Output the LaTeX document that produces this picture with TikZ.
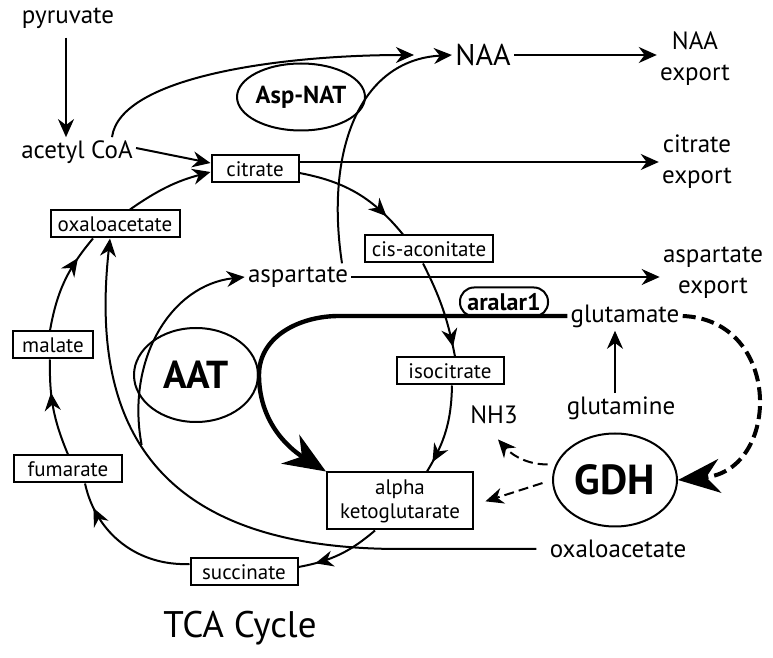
\documentclass[tikz,border=0pt]{standalone}
\usepackage{fontspec}
\setmainfont{PT Sans}
\usetikzlibrary{positioning, arrows.meta, shapes.geometric, decorations.markings, calc}

\begin{document}
\begin{tikzpicture}[x=0.5pt, y=-0.5pt,
  met/.style={font=\fontsize{12.5}{15.5}\selectfont, align=center, inner sep=1.5pt},
  cyc/.style={draw, line width=1pt, font=\fontsize{10.5}{12}\selectfont, minimum height=13.5pt,
              inner ysep=0pt, align=center},
  enz/.style={draw, ellipse, line width=1pt, inner sep=0pt, font=\bfseries\fontsize{#1}{#1}\selectfont},
  arr/.style={-{Stealth[length=9pt, width=8pt]}, line width=1pt},
  arrm/.style={line width=1pt, postaction={decorate},
               decoration={markings, mark=at position #1 with {\arrow{Stealth[length=9pt, width=8pt]}}}},
  arrd/.style={-{Stealth[length=9pt, width=8pt]}, line width=1pt, dash pattern=on 5pt off 2.5pt},
  arrt/.style={-{Stealth[length=21pt, width=17pt]}, line width=2.2pt},
  arrtd/.style={-{Stealth[length=21pt, width=17pt]}, line width=2pt, dash pattern=on 6.5pt off 3pt}
]
  \useasboundingbox (0,0) rectangle (773,658);

  % metabolites
  \node[met] (pyr) at (68,18) {pyruvate};
  \node[met] (acoa) at (77,152) {acetyl CoA};
  \node[met, font=\fontsize{15}{18}\selectfont] (naa) at (483,55) {NAA};
  \node[met] (naaex) at (695,59) {NAA\\export};
  \node[met] (citex) at (697,162) {citrate\\export};
  \node[met] (asp) at (298,277) {aspartate};
  \node[met] (aspex) at (713,273) {aspartate\\export};
  \node[met] (glu) at (625,316) {glutamate};
  \node[met] (gln) at (621,408) {glutamine};
  \node[met] (nh3) at (494,415) {NH3};
  \node[met] (oaa2) at (618,549) {oxaloacetate};

  % TCA cycle boxes
  \node[cyc, minimum width=43.5pt] (cit) at (255,169) {citrate};
  \node[cyc, minimum width=63pt] (cis) at (429,249) {cis-aconitate};
  \node[cyc, minimum width=53.5pt] (iso) at (450,371) {isocitrate};
  \node[cyc, minimum width=73pt, minimum height=28.5pt] (akg) at (400,501) {alpha\\ketoglutarate};
  \node[cyc, minimum width=53.5pt] (suc) at (244,572) {succinate};
  \node[cyc, minimum width=54pt] (fum) at (68,469) {fumarate};
  \node[cyc, minimum width=40pt] (mal) at (53,345) {malate};
  \node[cyc, minimum width=64.5pt] (oaa) at (115,224) {oxaloacetate};

  % enzymes
  \node[enz=12.3, minimum width=55.5pt, minimum height=33.5pt] (aspnat) at (301,97) {Asp-NAT};
  \node[enz=19.5, minimum width=62pt, minimum height=47pt] (aat) at (196,375) {AAT};
  \node[enz=21, minimum width=62pt, minimum height=46.5pt] (gdh) at (615,480) {GDH};
  \node[draw, rounded corners=7pt, line width=1pt, minimum width=44pt, minimum height=14.5pt,
        inner sep=0pt, font=\bfseries\fontsize{12}{14}\selectfont] (aralar) at (504,302) {aralar1};

  \node[font=\fontsize{18.5}{22}\selectfont] (tca) at (240,628) {TCA Cycle};

  % cycle
  \draw[arr, shorten <=3pt] ([xshift=-1pt]pyr.south) -- ([xshift=-1pt]pyr.south |- acoa.north);
  \draw[arr] ([yshift=2pt]acoa.east) -- ([yshift=3pt]cit.west);
  \draw[arr] ([xshift=7.5pt]oaa.north) to[bend left=10] ([yshift=-1.5pt]cit.west);
  \draw[arrm=0.8] ([yshift=-2pt]cit.east) to[bend left=20] ([xshift=-13pt]cis.north);
  \draw[arrm=0.9] ([xshift=-3pt]cis.south) to[bend left=8] ([xshift=2.5pt]iso.north);
  \draw[arrm=0.88] ([xshift=1pt]iso.south) to[bend left=15] ([xshift=13.5pt]akg.north);
  \draw[arrm=0.8] ([xshift=-12.5pt]akg.south) to[bend left=15] ([yshift=2.5pt]suc.east);
  \draw[arrm=0.82] ([yshift=4pt]suc.west) to[bend left=40] ([xshift=8.5pt]fum.south);
  \draw[arrm=0.66] ([xshift=0pt]fum.north) to[bend left=12] ([xshift=-1.5pt]mal.south);
  \draw[arrm=0.76] ([xshift=-1.5pt]mal.north) to[bend left=15] ([xshift=-11pt]oaa.south);

  % exports
  \draw[arr] (naa.east) -- (naa.east -| naaex.west);
  \draw[arr] ([yshift=3.5pt]cit.east) -- ([yshift=3.5pt]cit.east -| citex.west);
  \draw[arr] (asp.east) -- (asp.east -| aspex.west);

  % NAA synthesis
  \draw[arr, shorten >=19pt] ([xshift=17.5pt]acoa.north) .. controls +(8,-60) and +(-173,0) .. (naa.west);
  \draw[arr] ([xshift=22pt]asp.north) .. controls +(-17,-112) and +(-93,5) .. (naa.west);

  % oxaloacetate and AAT
  \draw[arr, shorten <=5pt] (oaa2.west) -- (akg.south |- oaa2.west)
    .. controls +(-250,0) and +(-20,182) .. ([xshift=-2.5pt]oaa.south) coordinate[pos=0.55] (split);
  \draw[arr] (split) .. controls +(-16,-85) and +(-74,8) .. (asp.west);
  \draw[arrt] (glu.west) -- ($(aat.east |- glu.west)+(40pt,0)$) to[out=180, in=90] (aat.east)
    to[out=-90, in=148] (akg.north west);

  % glutamate
  \draw[arr] ([xshift=-3pt]gln.north) -- ([xshift=-3pt]gln.north |- glu.south);
  \draw[arrtd] (glu.east) .. controls +(100,4) and +(103,-10) .. (gdh.east);
  \draw[arrd, shorten <=4pt] (gdh.165) to[bend left=25] ([xshift=2pt, yshift=-6pt]nh3.south);
  \draw[arrd, shorten <=5pt, shorten >=6pt] (gdh.west) -- ([yshift=-2pt]akg.east);

\end{tikzpicture}
\end{document}
